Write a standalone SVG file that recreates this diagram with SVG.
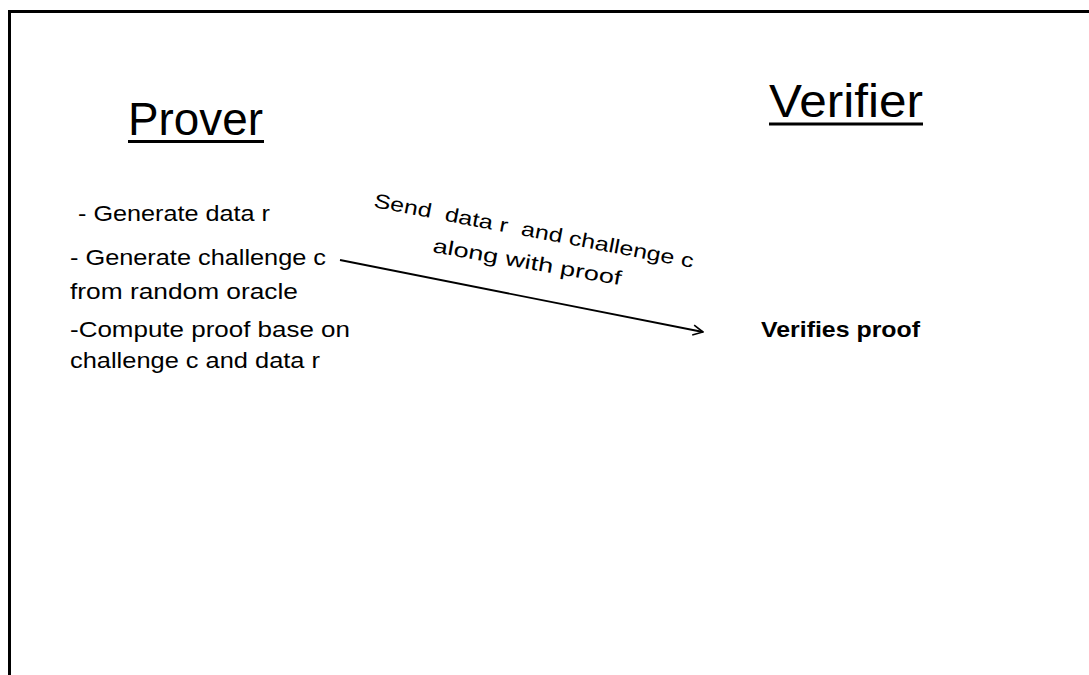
<svg xmlns="http://www.w3.org/2000/svg" width="1089" height="675" viewBox="0 0 1089 675">
<defs>
<style>
text{font-family:"Liberation Sans",Arial,sans-serif;fill:#000}
.title{font-size:46px}
.item{font-size:22px}
.lbl{font-size:20px}
.bold{font-size:22px;font-weight:bold}
.ul{stroke:#000;stroke-width:3}
</style>
<marker id="open" viewBox="0 0 12 12" refX="11" refY="6" markerWidth="12" markerHeight="12" markerUnits="userSpaceOnUse" orient="auto">
<path d="M1,1 L11,6 L1,11" fill="none" stroke="#000" stroke-width="1.6"/>
</marker>
</defs>
<rect width="1089" height="675" fill="#fff"/>
<rect x="9.5" y="11.5" width="1100" height="700" fill="none" stroke="#000" stroke-width="3"/>
<g id="prover">
<text class="title" x="128" y="135" textLength="135" lengthAdjust="spacingAndGlyphs">Prover</text>
<line class="ul" x1="128" y1="141.5" x2="264" y2="141.5"/>
<text class="item" x="78" y="221" textLength="192" lengthAdjust="spacingAndGlyphs">- Generate data r</text>
<text class="item" x="70" y="265" textLength="256" lengthAdjust="spacingAndGlyphs">- Generate challenge c</text>
<text class="item" x="70" y="299" textLength="228" lengthAdjust="spacingAndGlyphs">from random oracle</text>
<text class="item" x="70" y="337" textLength="280" lengthAdjust="spacingAndGlyphs">-Compute proof base on</text>
<text class="item" x="70" y="368" textLength="250" lengthAdjust="spacingAndGlyphs">challenge c and data r</text>
</g>
<g id="verifier">
<text class="title" x="769" y="117" textLength="154" lengthAdjust="spacingAndGlyphs">Verifier</text>
<line class="ul" x1="769" y1="124" x2="923" y2="124"/>
<text class="bold" x="761" y="337" textLength="159" lengthAdjust="spacingAndGlyphs">Verifies proof</text>
</g>
<g id="connectors">
<line x1="340" y1="260" x2="703" y2="332" stroke="#000" stroke-width="1.8" marker-end="url(#open)"/>
<text class="lbl" xml:space="preserve" style="white-space:pre" transform="translate(373,207) rotate(10.8)" textLength="325" lengthAdjust="spacingAndGlyphs">Send  data r  and challenge c</text>
<text class="lbl" transform="translate(432,252) rotate(10)" textLength="191" lengthAdjust="spacingAndGlyphs">along with proof</text>
</g>
</svg>
